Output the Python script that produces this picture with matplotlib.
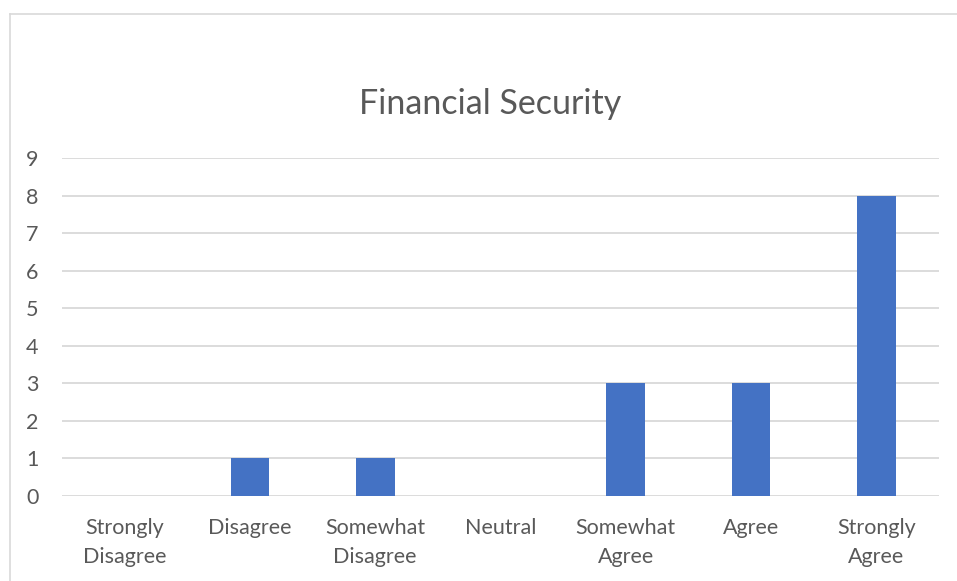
import matplotlib
matplotlib.use("Agg")
import matplotlib.pyplot as plt
from matplotlib.lines import Line2D

categories = ["Strongly\nDisagree", "Disagree", "Somewhat\nDisagree", "Neutral",
              "Somewhat\nAgree", "Agree", "Strongly\nAgree"]
counts = [0, 1, 1, 0, 3, 3, 8]
y_ticks = list(range(0, 10))
title = "Financial Security"

plt.rcParams["font.family"] = ["Lato", "DejaVu Sans"]
text_color = "#595959"
bar_color = "#4472C4"
grid_color = "#d9d9d9"

fig = plt.figure(figsize=(9.57, 5.81), dpi=100)
ax = fig.add_axes([62 / 957, 1 - 496 / 581, (939 - 62) / 957, (496 - 158) / 581])

x = list(range(len(categories)))
ax.bar(x, counts, width=0.31, color=bar_color, zorder=3)

ax.set_xlim(-0.5, len(categories) - 0.5)
ax.set_ylim(0, 9)
ax.set_yticks(y_ticks)
ax.set_xticks(x)
ax.set_xticklabels(categories, linespacing=1.55)
ax.tick_params(axis="both", length=0, labelsize=15.5, colors=text_color)
ax.tick_params(axis="y", pad=17)
ax.tick_params(axis="x", pad=16)

ax.grid(axis="y", color=grid_color, linewidth=1.3, zorder=0)
for s in ax.spines.values():
    s.set_visible(False)

fig.text(490 / 957, 1 - 104 / 581, title, ha="center", va="center",
         fontsize=24.5, color=text_color)

# chart area frame (top and left edges)
fig.add_artist(Line2D([10 / 957, 1.0], [1 - 14 / 581, 1 - 14 / 581],
                      transform=fig.transFigure, color="#d9d9d9", linewidth=1.2))
fig.add_artist(Line2D([10 / 957, 10 / 957], [0.0, 1 - 14 / 581],
                      transform=fig.transFigure, color="#d9d9d9", linewidth=1.2))

fig.savefig("out.png", dpi=100)
